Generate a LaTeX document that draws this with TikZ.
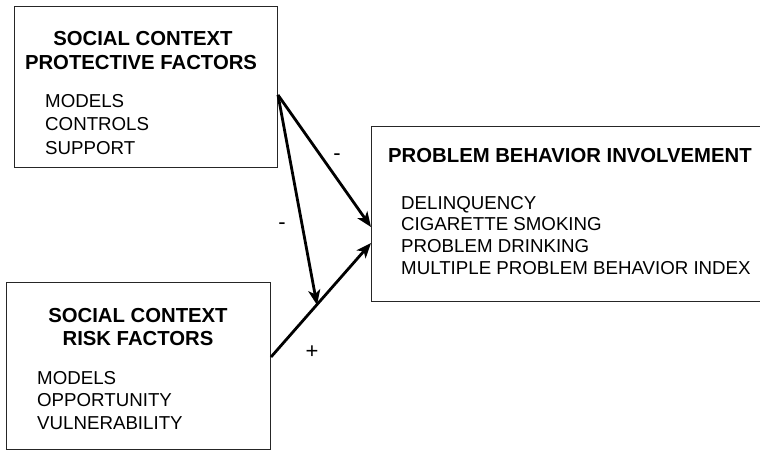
\documentclass[tikz,border=0pt]{standalone}
\usepackage{fontspec}
\setmainfont{Liberation Sans}
\usetikzlibrary{arrows.meta}
\begin{document}
\begin{tikzpicture}[x=1pt,y=-1pt,
  box/.style={draw=black!85,line width=1pt,inner sep=0pt},
  ttl/.style={font=\fontsize{20.3}{24}\selectfont\bfseries,inner sep=0pt,anchor=base},
  itm/.style={font=\fontsize{18.7}{23}\selectfont,inner sep=0pt,anchor=base west},
  sgn/.style={font=\fontsize{22}{26}\selectfont,inner sep=0pt},
  arr/.style={line width=2.8pt,-{Stealth[length=15pt,width=12pt,inset=4pt]}}]
\useasboundingbox (0,0) rectangle (760,450);
\clip (0,0) rectangle (760,450);
% boxes
\node[box,minimum width=263pt,minimum height=161pt,anchor=north west] (prot) at (14,6) {};
\node[box,minimum width=264pt,minimum height=167pt,anchor=north west] (risk) at (6,282) {};
\node[box,minimum width=400pt,minimum height=175pt,anchor=north west] (pbi) at (371,126) {};
% texts
\node[ttl] (pt1) at (143,45) {SOCIAL CONTEXT};
\node[ttl] (pt2) at (141,69) {PROTECTIVE FACTORS};
\node[itm] (pi1) at (45,107) {MODELS};
\node[itm] (pi2) at (45,130) {CONTROLS};
\node[itm] (pi3) at (45,154) {SUPPORT};
\node[ttl] (rt1) at (138,322) {SOCIAL CONTEXT};
\node[ttl] (rt2) at (138,345) {RISK FACTORS};
\node[itm] (ri1) at (37,384) {MODELS};
\node[itm] (ri2) at (37,406) {OPPORTUNITY};
\node[itm] (ri3) at (37,429) {VULNERABILITY};
\node[ttl,anchor=base west] (bt) at (388,162) {PROBLEM BEHAVIOR INVOLVEMENT};
\node[itm] (bi1) at (401,209) {DELINQUENCY};
\node[itm] (bi2) at (401,230) {CIGARETTE SMOKING};
\node[itm] (bi3) at (401,252) {PROBLEM DRINKING};
\node[itm] (bi4) at (401,274) {MULTIPLE PROBLEM BEHAVIOR INDEX};
% connector ends
\coordinate (pc) at (prot.north east |- 0,95);
\coordinate (rc) at (risk.north east |- 0,357);
\coordinate (pbiA) at (pbi.north west |- 0,227);
\coordinate (pbiB) at (pbi.north west |- 0,243);
\coordinate (mid) at (317,305);
\draw[arr] (pc) -- (pbiA);
\draw[arr] (pc) -- (mid);
\draw[arr] (rc) -- (pbiB);
% signs
\node[sgn] (s1) at (337,157) {-};
\node[sgn] (s2) at (282,226) {-};
\node[sgn] (s3) at (312,352) {+};
\end{tikzpicture}
\end{document}
